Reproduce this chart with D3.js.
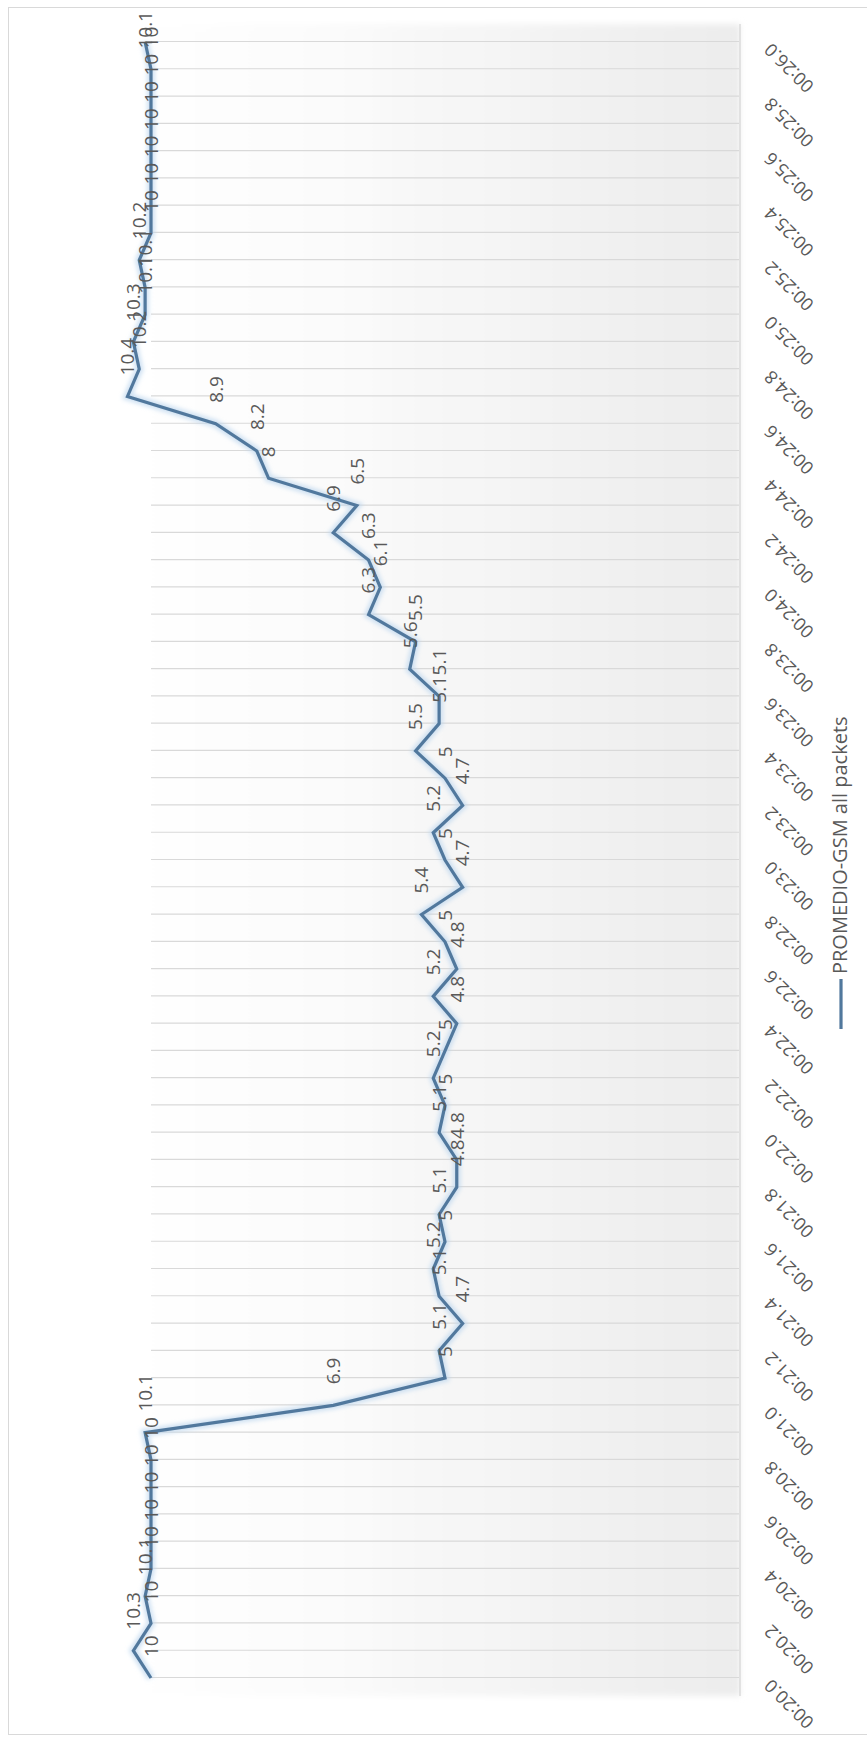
<!DOCTYPE html>
<html>
<head>
<meta charset="utf-8">
<script src="https://cdn.jsdelivr.net/npm/d3@7"></script>
<style>
  html, body { margin: 0; padding: 0; background: #ffffff; }
  svg { display: block; }
  text { font-family: "Open Sans", "Noto Sans", sans-serif; }
</style>
</head>
<body>
<svg id="chart" width="867" height="1740"></svg>
<script>
// Time stamps of the samples (mm:ss.s), one every tenth of a second
const categories = [
  "00:20.0","00:20.1","00:20.2","00:20.3","00:20.4","00:20.5","00:20.6","00:20.7","00:20.8","00:20.9",
  "00:21.0","00:21.1","00:21.2","00:21.3","00:21.4","00:21.5","00:21.6","00:21.7","00:21.8","00:21.9",
  "00:22.0","00:22.1","00:22.2","00:22.3","00:22.4","00:22.5","00:22.6","00:22.7","00:22.8","00:22.9",
  "00:23.0","00:23.1","00:23.2","00:23.3","00:23.4","00:23.5","00:23.6","00:23.7","00:23.8","00:23.9",
  "00:24.0","00:24.1","00:24.2","00:24.3","00:24.4","00:24.5","00:24.6","00:24.7","00:24.8","00:24.9",
  "00:25.0","00:25.1","00:25.2","00:25.3","00:25.4","00:25.5","00:25.6","00:25.7","00:25.8","00:25.9",
  "00:26.0"
];

// PROMEDIO-GSM all packets
const values = [
  10, 10.3, 10, 10.1, 10, 10, 10, 10, 10, 10.1,
  6.9, 5, 5.1, 4.7, 5.1, 5.2, 5, 5.1, 4.8, 4.8,
  5.1, 5, 5.2, 5, 4.8, 5.2, 4.8, 5, 5.4, 4.7,
  5, 5.2, 4.7, 5, 5.5, 5.1, 5.1, 5.6, 5.5, 6.3,
  6.1, 6.3, 6.9, 6.5, 8, 8.2, 8.9, 10.4, 10.2, 10.3,
  10.1, 10.1, 10.2, 10, 10, 10, 10, 10, 10, 10,
  10.1
];

// Axis labels shown on every second sample
const tickLabels = [
  "00:20.0","00:20.2","00:20.4","00:20.6","00:20.8","00:21.0","00:21.2","00:21.4",
  "00:21.6","00:21.8","00:22.0","00:22.2","00:22.4","00:22.6","00:22.8","00:23.0",
  "00:23.2","00:23.4","00:23.6","00:23.8","00:24.0","00:24.2","00:24.4","00:24.6",
  "00:24.8","00:25.0","00:25.2","00:25.4","00:25.6","00:25.8","00:26.0"
];

const seriesName = "PROMEDIO-GSM all packets";
const valueDomain = [0, 10];

const svg = d3.select("#chart");
const PAGE_H = 1740;

// Chart outline (page coordinates)
svg.append("rect")
  .attr("x", 8.5).attr("y", 7.5)
  .attr("width", 900).attr("height", 1727)
  .attr("fill", "#ffffff")
  .attr("stroke", "#d9d9d9").attr("stroke-width", 1);

const defs = svg.append("defs");
const grad = defs.append("linearGradient")
  .attr("id", "plotFill")
  .attr("x1", 0).attr("y1", 0).attr("x2", 0).attr("y2", 1);
grad.append("stop").attr("offset", 0).attr("stop-color", "#ffffff");
grad.append("stop").attr("offset", 0.3).attr("stop-color", "#fcfcfc");
grad.append("stop").attr("offset", 1).attr("stop-color", "#ececec");

const soft = defs.append("filter").attr("id", "soft")
  .attr("x", "-5%").attr("y", "-5%").attr("width", "110%").attr("height", "110%");
soft.append("feGaussianBlur").attr("stdDeviation", 3);

const glow = defs.append("filter").attr("id", "glow")
  .attr("x", "-10%").attr("y", "-10%").attr("width", "120%").attr("height", "120%");
glow.append("feGaussianBlur").attr("stdDeviation", 2);

// The chart is laid out landscape and turned a quarter turn counter-clockwise
const g = svg.append("g")
  .attr("transform", `translate(0,${PAGE_H}) rotate(-90)`);

const x = d3.scalePoint().domain(categories).range([62, 1698]);
const y = d3.scaleLinear().domain(valueDomain).range([739, 151]);

// Plot area background
g.append("rect")
  .attr("x", 44).attr("y", 108)
  .attr("width", 1672).attr("height", y(0) - 108 + 1)
  .attr("fill", "url(#plotFill)")
  .attr("filter", "url(#soft)");

// Vertical grid lines, one per sample
g.append("g")
  .attr("transform", `translate(0,${y(0)})`)
  .call(d3.axisBottom(x).tickSize(-(y(0) - y(10))).tickFormat(""))
  .call(s => s.select(".domain").remove())
  .call(s => s.selectAll(".tick line").attr("stroke", "#d9d9d9").attr("stroke-width", 1.2));

// Category axis line
g.append("line")
  .attr("x1", 44).attr("x2", 1716)
  .attr("y1", y(0) + 1).attr("y2", y(0) + 1)
  .attr("stroke", "#d4d4d4").attr("stroke-width", 1.2);

// Category labels, slanted
g.append("g").selectAll("text")
  .data(tickLabels)
  .join("text")
  .attr("transform", d => `translate(${x(d)},772) rotate(-45)`)
  .attr("text-anchor", "end")
  .attr("font-size", 18)
  .attr("fill", "#595959")
  .text(d => d);

// Series line with a soft halo
const line = d3.line()
  .x((d, i) => x(categories[i]))
  .y(d => y(d));

g.append("path")
  .datum(values)
  .attr("d", line)
  .attr("fill", "none")
  .attr("stroke", "#bcd6ee")
  .attr("stroke-width", 8)
  .attr("stroke-opacity", 0.7)
  .attr("stroke-linejoin", "miter")
  .attr("filter", "url(#glow)");

g.append("path")
  .datum(values)
  .attr("d", line)
  .attr("fill", "none")
  .attr("stroke", "#51789d")
  .attr("stroke-width", 3.2)
  .attr("stroke-linejoin", "miter");

// Data labels to the right of each point
const labelFs = 19;
const labels = g.append("g").selectAll("text")
  .data(values)
  .join("text")
  .attr("x", (d, i) => x(categories[i]) + 21)
  .attr("y", d => y(d))
  .attr("dy", "0.36em")
  .attr("font-size", labelFs)
  .attr("fill", "#595959")
  .text(d => String(d));

// keep labels inside the chart area
labels.each(function () {
  const t = d3.select(this);
  const w = this.getComputedTextLength();
  const x0 = +t.attr("x");
  if (x0 + w > 1729) t.attr("x", 1729 - w);
});

// Legend
g.append("line")
  .attr("x1", 711).attr("x2", 761)
  .attr("y1", 841).attr("y2", 841)
  .attr("stroke", "#51789d").attr("stroke-width", 3.2);
g.append("text")
  .attr("x", 766).attr("y", 847)
  .attr("font-size", 20)
  .attr("fill", "#595959")
  .text(seriesName);
</script>
</body>
</html>
